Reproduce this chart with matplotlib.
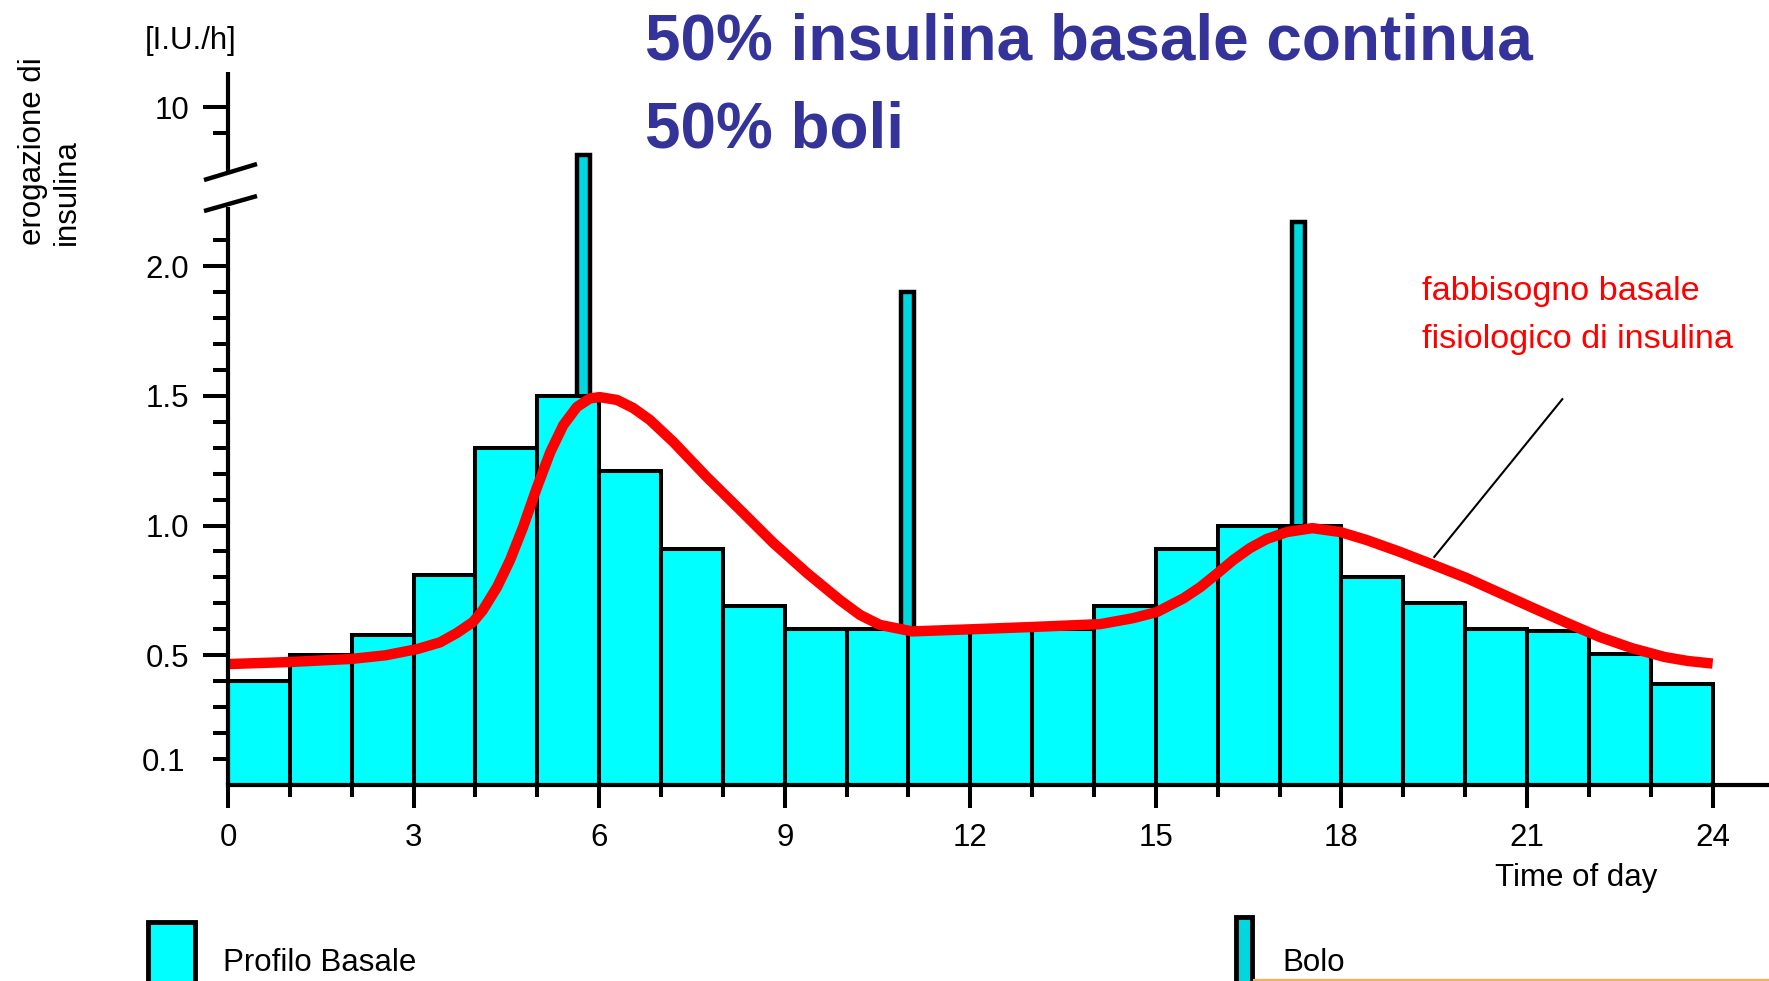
import numpy as np
import matplotlib
matplotlib.use("Agg")
import matplotlib.pyplot as plt
from matplotlib.patches import Rectangle
from matplotlib.lines import Line2D
from matplotlib.ticker import FixedLocator, FixedFormatter, FuncFormatter

# ---------------- data ----------------
hours = list(range(24))
basal = [0.40, 0.50, 0.58, 0.81, 1.30, 1.50, 1.21, 0.91, 0.69, 0.60, 0.60, 0.60,
         0.60, 0.60, 0.69, 0.91, 1.00, 1.00, 0.80, 0.70, 0.60, 0.594, 0.505, 0.39]

bolus_hours = [5.75, 10.98, 17.31]
bolus_values = [8.15, 1.90, 2.17]

curve_hours = [0.0, 1.0, 2.0, 2.55, 3.06, 3.43, 3.70, 3.96, 4.12, 4.35, 4.56, 4.77,
               4.99, 5.21, 5.42, 5.64, 5.85, 6.01, 6.29, 6.55, 6.82, 7.20, 7.74, 8.28,
               8.82, 9.36, 9.89, 10.22, 10.54, 11.06, 12.0, 13.0, 14.1, 14.63, 15.02,
               15.45, 15.72, 15.99, 16.25, 16.52, 16.79, 17.12, 17.53, 17.98, 18.41,
               18.95, 19.49, 20.03, 20.56, 21.1, 21.65, 22.18, 22.7, 23.23, 23.6, 24.0]
curve_values = [0.466, 0.474, 0.486, 0.50, 0.524, 0.55, 0.586, 0.628, 0.674, 0.763,
                0.867, 0.994, 1.144, 1.283, 1.387, 1.457, 1.49, 1.495, 1.484, 1.453,
                1.407, 1.322, 1.187, 1.06, 0.932, 0.817, 0.713, 0.655, 0.617, 0.592,
                0.60, 0.609, 0.62, 0.643, 0.667, 0.72, 0.763, 0.815, 0.867, 0.913,
                0.948, 0.975, 0.99, 0.975, 0.944, 0.898, 0.848, 0.797, 0.74, 0.682,
                0.624, 0.57, 0.527, 0.493, 0.478, 0.468]

x_major_ticks = [0, 3, 6, 9, 12, 15, 18, 21, 24]
x_major_labels = ["0", "3", "6", "9", "12", "15", "18", "21", "24"]
x_minor_ticks = [1, 2, 4, 5, 7, 8, 10, 11, 13, 14, 16, 17, 19, 20, 22, 23]
y_major_ticks = [0.5, 1.0, 1.5, 2.0, 10]
y_major_labels = ["0.5", "1.0", "1.5", "2.0", "10"]
y_minor_ticks = [0.1, 0.2, 0.3, 0.4, 0.6, 0.7, 0.8, 0.9, 1.1, 1.2, 1.3, 1.4,
                 1.6, 1.7, 1.8, 1.9, 2.1, 9]

title_lines = ["50% insulina basale continua", "50% boli"]
note_lines = ["fabbisogno basale", "fisiologico di insulina"]

# ---------------- style ----------------
plt.rcParams['font.family'] = ['Liberation Sans', 'DejaVu Sans']

W, H = 1769, 981
fig = plt.figure(figsize=(W / 100, H / 100), dpi=100)


def fx(px):
    return px / W


def fy(py):
    return 1 - py / H


ax = fig.add_axes([fx(228), fy(785), 1 - fx(228), (785 - 72) / H])

# broken y axis via a piecewise-linear scale
YK = np.array([0.0, 2.25, 7.5, 40.0])
UK = np.array([0.0, 2.25, 2.363, 2.363 + 32.5 * 0.1])


def fwd(y):
    y = np.asarray(y, float)
    return np.where(y < 0, y, np.interp(y, YK, UK))


def inv(u):
    u = np.asarray(u, float)
    return np.where(u < 0, u, np.interp(u, UK, YK))


ax.set_yscale('function', functions=(fwd, inv))

# bars
ax.bar(bolus_hours, bolus_values, width=0.21, align='center', color='#00D8E0',
       edgecolor='black', linewidth=3.2, zorder=1)
ax.bar(hours, basal, width=1.0, align='edge', color='#00FFFF',
       edgecolor='black', linewidth=2.9, zorder=2)

# physiological curve
ax.plot(curve_hours, curve_values, color='#FF0000', lw=7.5, solid_joinstyle='round',
        solid_capstyle='butt', zorder=4)
# pointer line
ax.plot([19.50, 21.57], [0.879, 1.487], color='black', lw=1.5, zorder=3)

ax.set_xlim(0, (1769 - 228) / 61.86)
ax.set_ylim(0, 11.35)

# spines
for s in ['top', 'right', 'left']:
    ax.spines[s].set_visible(False)
ax.spines['bottom'].set_linewidth(3.0)

# left spine with break
ax.plot([0, 0], [0, 0.8107], transform=ax.transAxes, color='black', lw=3.0,
        clip_on=False, solid_capstyle='butt', zorder=5)
ax.plot([0, 0], [0.8597, 1.0], transform=ax.transAxes, color='black', lw=3.0,
        clip_on=False, solid_capstyle='butt', zorder=5)
ax.plot([-0.01557, 0.01882], [0.8050, 0.8261], transform=ax.transAxes, color='black',
        lw=3.2, clip_on=False, solid_capstyle='butt', zorder=5)
ax.plot([-0.01557, 0.01882], [0.8485, 0.8710], transform=ax.transAxes, color='black',
        lw=3.2, clip_on=False, solid_capstyle='butt', zorder=5)

# ticks
ax.xaxis.set_major_locator(FixedLocator(x_major_ticks))
ax.xaxis.set_major_formatter(FixedFormatter(x_major_labels))
ax.xaxis.set_minor_locator(FixedLocator(x_minor_ticks))
ax.tick_params(axis='x', which='major', length=16.5, width=2.9, pad=11,
               labelsize=22.5, direction='out', colors='black')
ax.tick_params(axis='x', which='minor', length=8.6, width=2.9, direction='out')

ax.yaxis.set_major_locator(FixedLocator(y_major_ticks))
ax.yaxis.set_major_formatter(FixedFormatter(y_major_labels))
ax.yaxis.set_minor_locator(FixedLocator(y_minor_ticks))
ax.yaxis.set_minor_formatter(FuncFormatter(lambda v, p: '0.1' if abs(v - 0.1) < 1e-9 else ''))
ax.tick_params(axis='y', which='major', length=18, width=2.9, pad=10,
               labelsize=22.5, direction='out')
ax.tick_params(axis='y', which='minor', length=10.5, width=2.9, pad=20,
               labelsize=22.5, direction='out')

# texts
title_color = '#333399'
fig.text(fx(645), fy(60), title_lines[0], color=title_color, fontsize=46,
         fontweight='bold', ha='left', va='baseline')
fig.text(fx(645), fy(148), title_lines[1], color=title_color, fontsize=46,
         fontweight='bold', ha='left', va='baseline')

fig.text(fx(1422), fy(300), note_lines[0], color='#FF0000', fontsize=24.7,
         ha='left', va='baseline')
fig.text(fx(1422), fy(348), note_lines[1], color='#FF0000', fontsize=24.7,
         ha='left', va='baseline')

fig.text(fx(145), fy(49), "[I.U./h]", fontsize=22.5, ha='left', va='baseline')
fig.text(fx(50), fy(245), "erogazione di\ninsulina", fontsize=22.5, rotation=90,
         ha='center', va='bottom', multialignment='left')
fig.text(fx(1495), fy(886), "Time of day", fontsize=22.5, ha='left', va='baseline')

# legend
fig.add_artist(Rectangle((fx(147.5), fy(1010)), (194.5 - 147.5) / W, (1010 - 922.5) / H,
                         transform=fig.transFigure, facecolor='#00FFFF',
                         edgecolor='black', lw=3.5, clip_on=False))
fig.text(fx(223), fy(971), "Profilo Basale", fontsize=22.5, ha='left', va='baseline')
fig.add_artist(Rectangle((fx(1235.5), fy(1010)), (1251.5 - 1235.5) / W, (1010 - 917.5) / H,
                         transform=fig.transFigure, facecolor='#00D8E0',
                         edgecolor='black', lw=3.5, clip_on=False))
fig.text(fx(1282), fy(971), "Bolo", fontsize=22.5, ha='left', va='baseline')
fig.add_artist(Line2D([fx(1254), 1.0], [fy(980), fy(980)], transform=fig.transFigure,
                      color='#F4B060', lw=1.6))

fig.savefig('out.png', dpi=100)
